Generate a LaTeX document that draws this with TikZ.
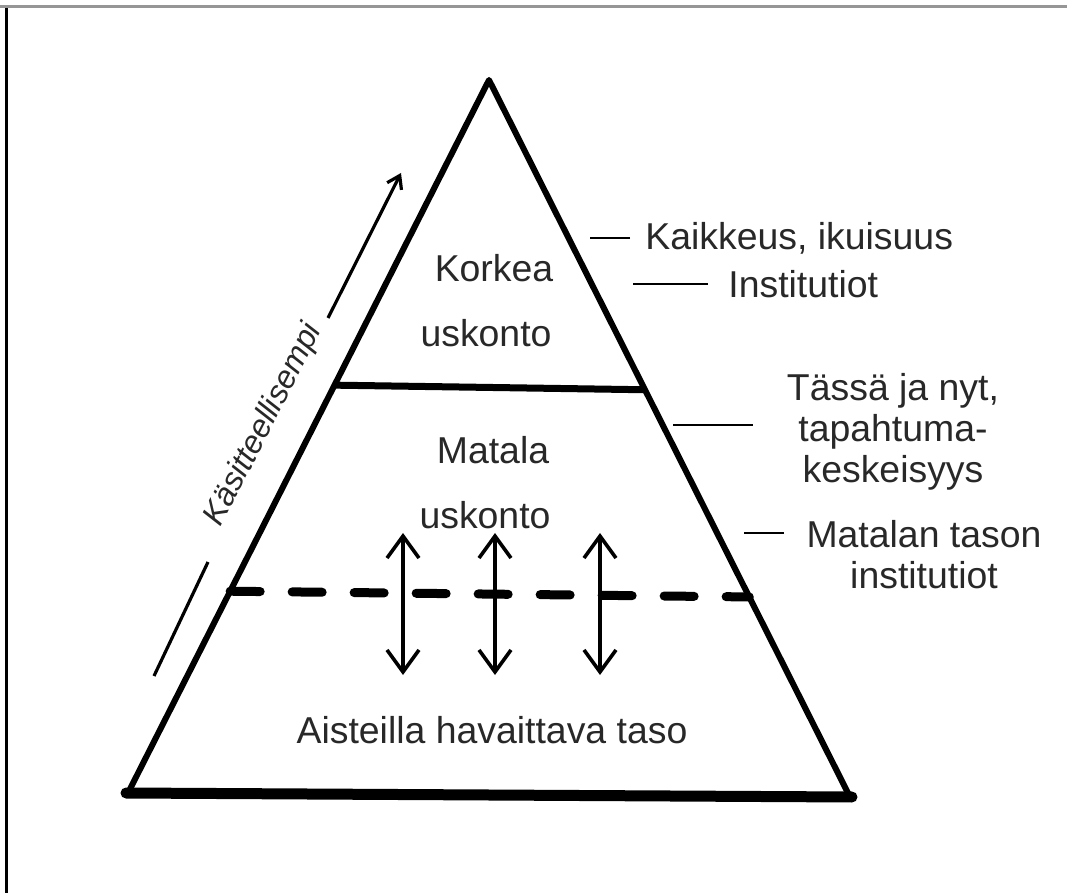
\documentclass[tikz,border=0pt]{standalone}
\usepackage{fontspec}
\setmainfont{Liberation Sans}
\usetikzlibrary{arrows.meta,calc}
\definecolor{frameline}{RGB}{150,150,150}
\definecolor{ink}{RGB}{40,40,40}

\begin{document}
\begin{tikzpicture}[x=0.5pt,y=-0.5pt,
 lbl/.style={text=ink,font=\fontsize{18.7}{20.5}\selectfont,align=center,inner sep=1pt},
 side/.style={line width=3pt,line join=round},
 tick/.style={line width=1.3pt},
 updown/.style={{Straight Barb[length=11pt,width=16pt]}-{Straight Barb[length=11pt,width=16pt]},line width=1.8pt}]
\useasboundingbox (0,0) rectangle (1067,893);
\draw[frameline,line width=1.5pt] (0,7) -- (1067,7);
\draw[line width=1.5pt] (6,8) -- (6,893);
\coordinate (apex) at (489,80);
\coordinate (bl) at (128,793);
\coordinate (br) at (850,797);
\draw[side] (bl) -- (apex) -- (br);
\draw[line width=5.5pt,line cap=round] ([xshift=-1]bl) -- ([xshift=1]br);
\draw[line width=3.5pt] ($(apex)!0.428!(bl)$) -- ($(apex)!0.432!(br)$);
\draw[line width=4.5pt,line cap=round,dash pattern=on 15pt off 16pt] ($(apex)!0.717!(bl)$) -- ($(apex)!0.721!(br)$);
\foreach \x in {403,495,600}
  \draw[updown] (\x,533) -- (\x,675);
\node[lbl] (korkea) at (494,268) {Korkea};
\node[lbl] (usk1) at (486,333) {uskonto};
\node[lbl] (matala) at (493,450) {Matala};
\node[lbl] (usk2) at (485,515) {uskonto};
\node[lbl] (aisti) at (492,730) {Aisteilla havaittava taso};
\node[lbl,anchor=west] (kaikki) at (643,238) {Kaikkeus, ikuisuus};
\node[lbl,anchor=west] (inst) at (726,284) {Institutiot};
\node[lbl] (tassa) at (893,432) {Tässä ja nyt,\\tapahtuma-\\keskeisyys};
\node[lbl] (matalan) at (924,555) {Matalan tason\\institutiot};
\draw[tick] ($(kaikki.west)+(-13,0)$) -- ++(-40,0);
\draw[tick] ($(inst.west)+(-18,0)$) -- ++(-75,0);
\draw[tick] ($(tassa.west)+(-32,-7)$) -- ++(-80,0);
\draw[tick] ($(matalan.west)+(-20,-22)$) -- ++(-40,0);
\node[lbl,font=\fontsize{16}{18}\selectfont\itshape,rotate=63] (kasit) at (264,425) {Käsitteellisempi};
\coordinate (up0) at (328,318);
\coordinate (up1) at (401,173);
\coordinate (low0) at (208,562);
\coordinate (low1) at (154,676);
\draw[-{Straight Barb[length=6pt,width=8pt]},line width=1.6pt] (up0) -- (up1);
\draw[line width=1.6pt] (low0) -- (low1);
\end{tikzpicture}
\end{document}
